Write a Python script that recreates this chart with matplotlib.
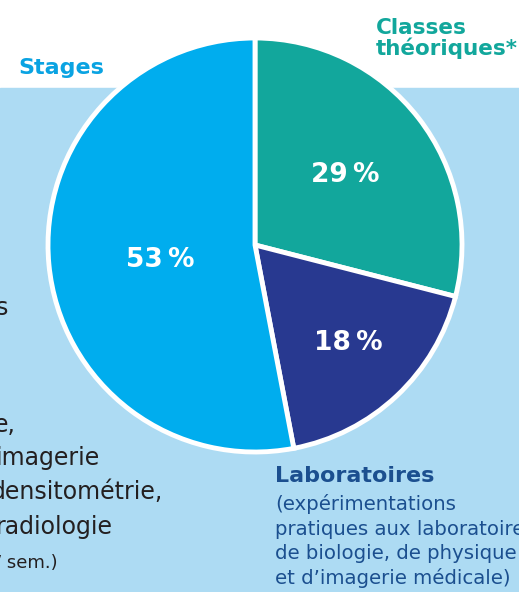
import matplotlib.pyplot as plt
from matplotlib.patches import Rectangle

# share of training time (%), clockwise from 12 o'clock
categories = ['Classes théoriques*', 'Laboratoires', 'Stages']
shares = [29, 18, 53]
pct_labels = ['29\u2009%', '18\u2009%', '53\u2009%']
colors = ['#12A79C', '#283990', '#00ADEE']

lab_note = ['(expérimentations', 'pratiques aux laboratoires',
            'de biologie, de physique', 'et d\u2019imagerie médicale)']

# partial text of the neighbouring panel (cut by the left edge)
left_lines = ['s', 'e,', 'imagerie', 'densitométrie,', 'radiologie', '/ sem.)']

FONT = ['Liberation Sans Narrow', 'DejaVu Sans']
W, H = 519, 592

fig = plt.figure(figsize=(W / 100, H / 100), dpi=100)
ax = fig.add_axes([0, 0, 1, 1])

# light blue panel behind the pie
ax.add_patch(Rectangle((0, 0), W, H - 88, color='#ADDBF3', zorder=0))

cx, cy, r = 255, H - 245, 207
ax.pie(shares, colors=colors, startangle=90, counterclock=False,
       center=(cx, cy), radius=r, frame=True,
       wedgeprops=dict(edgecolor='white', linewidth=3.5))
ax.set_xlim(0, W)
ax.set_ylim(0, H)
ax.set_aspect('equal')
ax.axis('off')

# percentage labels inside wedges
pct_pos = [(345, 175), (348, 343), (160, 260)]
for lab, (x, y) in zip(pct_labels, pct_pos):
    ax.text(x, H - y, lab, color='white', fontsize=19, fontweight='bold',
            family=FONT, ha='center', va='center')

# category titles
ax.text(104, H - 74, 'Stages', color='#0AA3E2', fontsize=16,
        fontweight='bold', family=FONT, ha='right', va='baseline')
ax.text(376, H - 34, 'Classes', color='#12A79C', fontsize=15.5,
        fontweight='bold', family=FONT, ha='left', va='baseline')
ax.text(376, H - 55, 'théoriques*', color='#12A79C', fontsize=15.5,
        fontweight='bold', family=FONT, ha='left', va='baseline')
ax.text(275, H - 482, 'Laboratoires', color='#1B4F8F', fontsize=16,
        fontweight='bold', family=FONT, ha='left', va='baseline')
for i, line in enumerate(lab_note):
    ax.text(275, H - (510 + 24.7 * i), line, color='#1B4F8F', fontsize=14.2,
            family=FONT, ha='left', va='baseline')

# cut-off text on the left
left_pos = [(8, 308), (16, 425), (100, 458), (163, 492), (113, 527), (58, 563)]
for i, (txt, (x, y)) in enumerate(zip(left_lines, left_pos)):
    size = 13 if i == len(left_lines) - 1 else 17
    ax.text(x, H - y, txt, color='#231F20', fontsize=size, family=FONT,
            ha='right', va='center')

fig.savefig('out.png', dpi=100)
